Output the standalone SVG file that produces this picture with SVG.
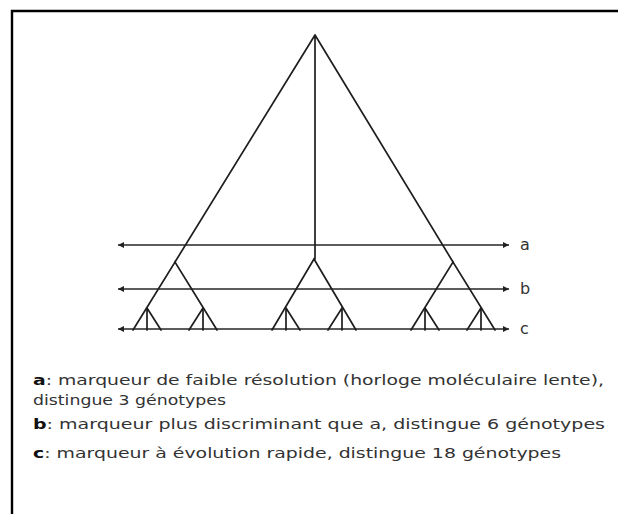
<svg xmlns="http://www.w3.org/2000/svg" width="618" height="514" viewBox="0 0 618 514">
<style>
.ln{stroke:#1e1e1e;stroke-width:1.7;fill:none;stroke-linecap:round}
.ax{stroke:#262626;stroke-width:1.7;fill:none}
.lbl{font-family:"DejaVu Sans",sans-serif;font-size:16px;fill:#333}
.txt{font-family:"DejaVu Sans",sans-serif;font-size:13.5px;fill:#333}
.b{font-weight:bold;fill:#111}
</style>
<defs>
<marker id="ah" viewBox="0 0 10 10" refX="10" refY="5" markerWidth="9" markerHeight="6" markerUnits="userSpaceOnUse" orient="auto-start-reverse">
<path d="M0,0 L10,5 L0,10 Z" fill="#222"/>
</marker>
</defs>
<rect width="618" height="514" fill="#fff"/>
<path d="M618,11 H12 V514" fill="none" stroke="#000" stroke-width="2.4"/>
<g id="connectors">
<line class="ax" x1="118" y1="245" x2="509" y2="245" marker-start="url(#ah)" marker-end="url(#ah)"/>
<line class="ax" x1="118" y1="289" x2="509" y2="289" marker-start="url(#ah)" marker-end="url(#ah)"/>
<line class="ax" x1="118" y1="329" x2="509" y2="329" marker-start="url(#ah)" marker-end="url(#ah)"/>
</g>
<g id="tree">
<path class="ln" d="M315,35 L175,262 M315,35 L453,262 M315,35 L315,259"/>
<path class="ln" d="M133,330 L175,262 L217,330 M272,330 L314,259 L356,330 M411,330 L453,262 L495,330"/>
<path class="ln" d="M147,308 L161,330 M147,308 V330 M203,308 L189,330 M203,308 V330"/>
<path class="ln" d="M286,308 L300,330 M286,308 V330 M342,308 L328,330 M342,308 V330"/>
<path class="ln" d="M425,308 L439,330 M425,308 V330 M481,308 L467,330 M481,308 V330"/>
</g>
<g id="labels">
<text class="lbl" x="520" y="250">a</text>
<text class="lbl" x="520" y="294">b</text>
<text class="lbl" x="520" y="334">c</text>
</g>
<g id="legend">
<text class="txt" x="33" y="385" textLength="571" lengthAdjust="spacingAndGlyphs"><tspan class="b">a</tspan>: marqueur de faible résolution (horloge moléculaire lente),</text>
<text class="txt" x="33" y="405" textLength="193" lengthAdjust="spacingAndGlyphs">distingue 3 génotypes</text>
<text class="txt" x="33" y="429" textLength="572" lengthAdjust="spacingAndGlyphs"><tspan class="b">b</tspan>: marqueur plus discriminant que a, distingue 6 génotypes</text>
<text class="txt" x="33" y="458" textLength="528" lengthAdjust="spacingAndGlyphs"><tspan class="b">c</tspan>: marqueur à évolution rapide, distingue 18 génotypes</text>
</g>
</svg>
